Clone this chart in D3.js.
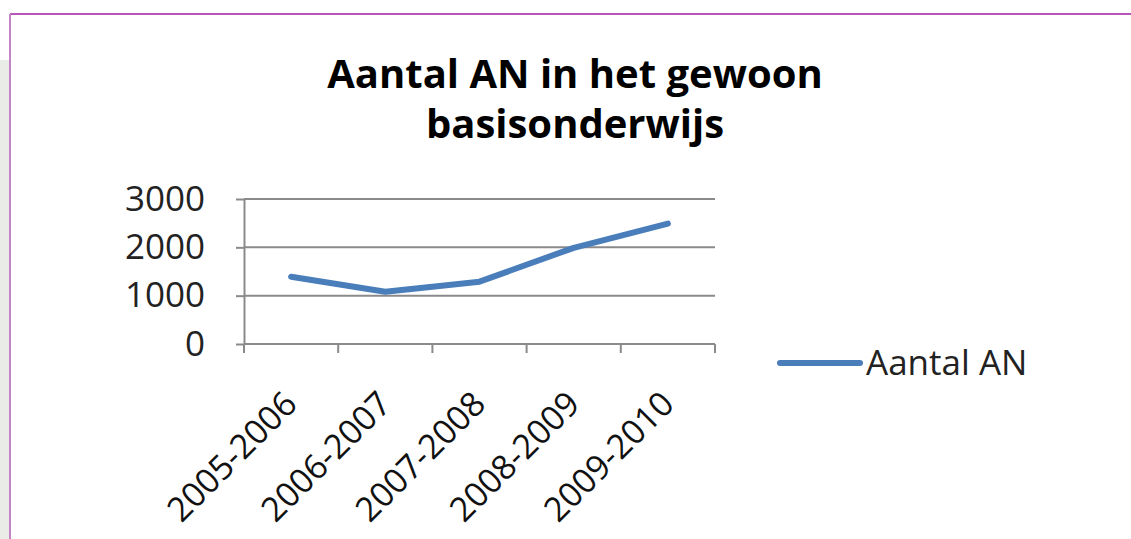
<!DOCTYPE html>
<html>
<head>
<meta charset="utf-8">
<script src="https://cdn.jsdelivr.net/npm/d3@7"></script>
<style>
  body { margin: 0; background: #fff; }
  svg { display: block; font-family: 'Open Sans', sans-serif; }
</style>
</head>
<body>
<svg width="1131" height="539"></svg>
<script>
const CATEGORIES = ['2005-2006', '2006-2007', '2007-2008', '2008-2009', '2009-2010'];
const VALUES = [1390, 1080, 1290, 1990, 2490];
const Y_TICKS = [0, 1000, 2000, 3000];
const TITLE_LINES = ['Aantal AN in het gewoon', 'basisonderwijs'];
const SERIES_NAME = 'Aantal AN';

const PLOT = {left: 244, right: 715, top: 199, bottom: 344};
const LINE_COLOR = '#4a7ebb';
const GRID_COLOR = '#8a8a8a';

const svg = d3.select('svg');

// slide background: grey strip on the left and the magenta frame
svg.append('rect').attr('x', 0).attr('y', 60).attr('width', 10).attr('height', 479).attr('fill', '#eaece7');
svg.append('line').attr('x1', 10).attr('x2', 1131).attr('y1', 14).attr('y2', 14)
    .attr('stroke', '#b955b9').attr('stroke-width', 2);
svg.append('line').attr('x1', 10).attr('x2', 10).attr('y1', 14).attr('y2', 539)
    .attr('stroke', '#c584c5').attr('stroke-width', 2);

const x = d3.scaleBand().domain(CATEGORIES).range([PLOT.left, PLOT.right]).padding(0);
const y = d3.scaleLinear().domain([0, 3000]).range([PLOT.bottom, PLOT.top]);

// title
svg.append('text')
    .attr('text-anchor', 'middle')
    .attr('font-weight', 'bold')
    .attr('font-size', 40)
    .attr('fill', '#000')
    .selectAll('tspan')
    .data(TITLE_LINES)
    .enter()
    .append('tspan')
    .attr('x', 575)
    .attr('y', (d, i) => 88 + i * 50)
    .text(d => d);

// y axis + labels
const yAxis = svg.append('g')
    .attr('transform', `translate(${PLOT.left},0)`)
    .call(d3.axisLeft(y).tickValues(Y_TICKS).tickFormat(d3.format('d'))
        .tickSize(8).tickSizeOuter(0).tickPadding(31));
yAxis.select('.domain').attr('stroke', GRID_COLOR).attr('stroke-width', 2);
yAxis.selectAll('.tick line').attr('stroke', GRID_COLOR).attr('stroke-width', 2);
yAxis.selectAll('.tick text').attr('font-size', 35).attr('fill', '#222').attr('font-family', 'Open Sans');

// horizontal gridlines
svg.append('g').selectAll('line')
    .data(Y_TICKS)
    .enter()
    .append('line')
    .attr('x1', PLOT.left)
    .attr('x2', PLOT.right)
    .attr('y1', d => y(d))
    .attr('y2', d => y(d))
    .attr('stroke', GRID_COLOR)
    .attr('stroke-width', 2);

// x axis ticks at category boundaries
const boundaries = CATEGORIES.map(c => x(c)).concat([x.range()[1]]);
svg.append('g').selectAll('line')
    .data(boundaries)
    .enter()
    .append('line')
    .attr('x1', d => d)
    .attr('x2', d => d)
    .attr('y1', PLOT.bottom)
    .attr('y2', PLOT.bottom + 9)
    .attr('stroke', GRID_COLOR)
    .attr('stroke-width', 2);

// rotated category labels
svg.append('g').selectAll('text')
    .data(CATEGORIES)
    .enter()
    .append('text')
    .attr('text-anchor', 'end')
    .attr('font-size', 34)
    .attr('fill', '#111')
    .attr('transform', d => `translate(${x(d) + x.bandwidth() / 2 + 8},${PLOT.bottom + 62}) rotate(-45)`)
    .text(d => d);

// the series line
const line = d3.line()
    .x((d, i) => x(CATEGORIES[i]) + x.bandwidth() / 2)
    .y(d => y(d));

svg.append('path')
    .datum(VALUES)
    .attr('d', line)
    .attr('fill', 'none')
    .attr('stroke', LINE_COLOR)
    .attr('stroke-width', 6)
    .attr('stroke-linecap', 'round')
    .attr('stroke-linejoin', 'round');

// legend
const legend = svg.append('g').attr('transform', 'translate(780,363)');
legend.append('line')
    .attr('x1', 0).attr('x2', 80).attr('y1', 0).attr('y2', 0)
    .attr('stroke', LINE_COLOR).attr('stroke-width', 6).attr('stroke-linecap', 'round');
legend.append('text')
    .attr('x', 86).attr('y', 12)
    .attr('font-size', 35)
    .attr('fill', '#222')
    .text(SERIES_NAME);
</script>
</body>
</html>
